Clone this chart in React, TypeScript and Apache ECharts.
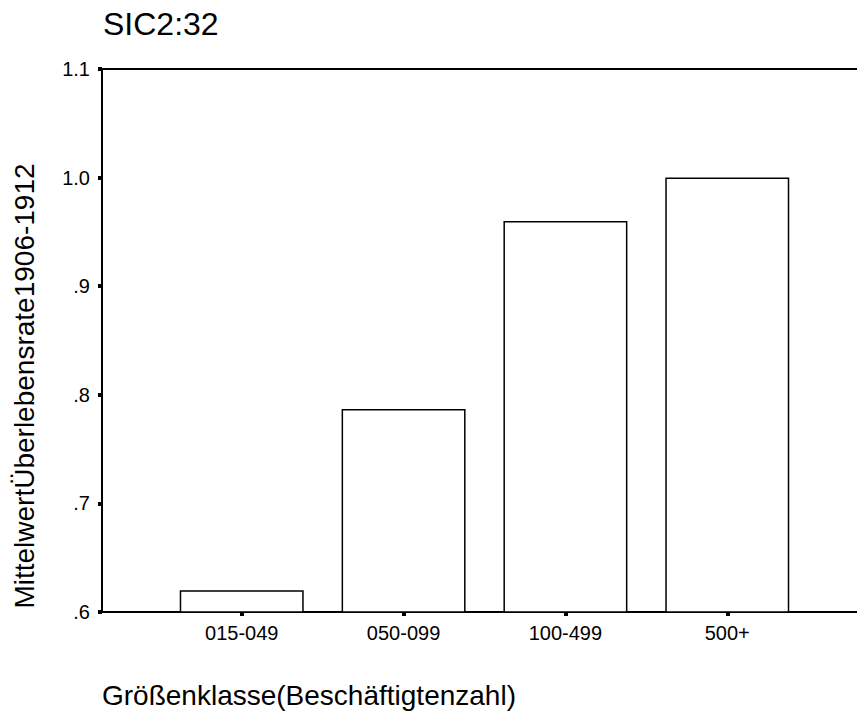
import React, { useEffect, useRef } from "react";
import * as echarts from "echarts";

const categories = ["015-049", "050-099", "100-499", "500+"];
const meanSurvival = [0.62, 0.787, 0.96, 1.0];
const yTicks = [0.6, 0.7, 0.8, 0.9, 1.0, 1.1];
const chartTitle = "SIC2:32";
const yTitle = "MittelwertÜberlebensrate1906-1912";
const xTitle = "Größenklasse(Beschäftigtenzahl)";

const FONT = "'Liberation Sans', Arial, sans-serif";

export default function App() {
  const ref = useRef<HTMLDivElement>(null);
  useEffect(() => {
    if (!ref.current) return;
    const chart = echarts.init(ref.current, undefined, { renderer: "svg" });
    const yMin = yTicks[0];
    const yMax = yTicks[yTicks.length - 1];
    const fmt = (v: number) => v.toFixed(1).replace(/^0/, "");
    chart.setOption({
      animation: false,
      backgroundColor: "#ffffff",
      textStyle: { fontFamily: FONT },
      grid: [
        // bars grid (category bands)
        { left: 160.8, right: 48.8, top: 69, bottom: 106, containLabel: false },
        // frame grid (axes lines, y labels)
        { left: 102, right: 0, top: 69, bottom: 106, containLabel: false },
      ],
      xAxis: [
        {
          type: "category",
          gridIndex: 0,
          data: categories,
          axisLine: { show: false },
          axisTick: {
            show: true,
            alignWithLabel: true,
            length: 4,
            lineStyle: { color: "#000", width: 4 },
          },
          axisLabel: { color: "#000", fontSize: 20, fontFamily: FONT, margin: 11 },
          splitLine: { show: false },
        },
        {
          type: "value",
          gridIndex: 1,
          position: "bottom",
          min: 0,
          max: 1,
          axisLine: { show: true, onZero: false, lineStyle: { color: "#000", width: 2 } },
          axisTick: { show: false },
          axisLabel: { show: false },
          splitLine: { show: false },
        },
        {
          type: "value",
          gridIndex: 1,
          position: "top",
          min: 0,
          max: 1,
          axisLine: { show: true, onZero: false, lineStyle: { color: "#000", width: 2 } },
          axisTick: { show: false },
          axisLabel: { show: false },
          splitLine: { show: false },
        },
      ],
      yAxis: [
        {
          type: "value",
          gridIndex: 0,
          min: yMin,
          max: yMax,
          interval: 0.1,
          show: false,
          splitLine: { show: false },
        },
        {
          type: "value",
          gridIndex: 1,
          min: yMin,
          max: yMax,
          interval: 0.1,
          axisLine: { show: true, onZero: false, lineStyle: { color: "#000", width: 2 } },
          axisTick: { show: true, length: 4, lineStyle: { color: "#000", width: 4 } },
          axisLabel: {
            color: "#000",
            fontSize: 20,
            fontFamily: FONT,
            margin: 12,
            formatter: (v: number) => fmt(v),
          },
          splitLine: { show: false },
        },
      ],
      series: [
        {
          type: "bar",
          xAxisIndex: 0,
          yAxisIndex: 0,
          data: meanSurvival,
          barCategoryGap: "23.4%",
          itemStyle: { color: "#ffffff", borderColor: "#000", borderWidth: 1.5 },
        },
      ],
      graphic: [
        {
          type: "text",
          left: 103,
          top: 8,
          style: { text: chartTitle, fontSize: 32, fontFamily: FONT, fill: "#000" },
        },
        {
          type: "text",
          x: 24,
          y: 386,
          rotation: Math.PI / 2,
          style: {
            text: yTitle,
            fontSize: 28,
            fontFamily: FONT,
            fill: "#000",
            align: "center",
            verticalAlign: "middle",
          },
        },
        {
          type: "text",
          x: 102,
          y: 695,
          style: {
            text: xTitle,
            fontSize: 28,
            fontFamily: FONT,
            fill: "#000",
            align: "left",
            verticalAlign: "middle",
          },
        },
      ],
    });
    return () => chart.dispose();
  }, []);
  return (
    <div
      ref={ref}
      style={{ position: "fixed", left: 0, top: 0, width: 857, height: 718, background: "#fff" }}
    />
  );
}
